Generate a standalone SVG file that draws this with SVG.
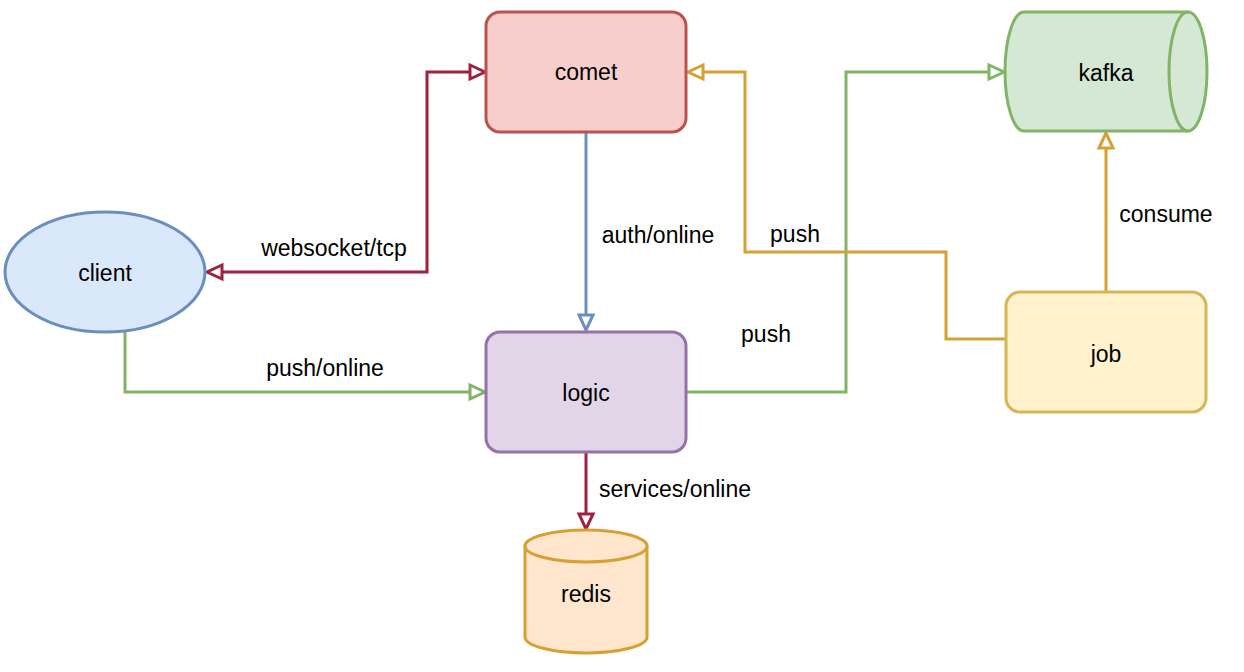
<svg xmlns="http://www.w3.org/2000/svg" width="1244" height="672" viewBox="0 0 1244 672">
<style>
text{font-family:"Liberation Sans",Arial,Helvetica,sans-serif;font-size:23px;fill:#000;text-anchor:middle}
.n{stroke-width:3}
.e{fill:none;stroke-width:3}
</style>
<defs>
<marker id="aR" viewBox="0 0 20 20" refX="17" refY="10" markerWidth="20" markerHeight="20" markerUnits="userSpaceOnUse" orient="auto-start-reverse"><path d="M2,3 L17,10 L2,17 Z" fill="#fff" stroke="#a0213f" stroke-width="3"/></marker>
<marker id="aB" viewBox="0 0 20 20" refX="17" refY="10" markerWidth="20" markerHeight="20" markerUnits="userSpaceOnUse" orient="auto"><path d="M2,3 L17,10 L2,17 Z" fill="#fff" stroke="#6c8ebf" stroke-width="3"/></marker>
<marker id="aG" viewBox="0 0 20 20" refX="17" refY="10" markerWidth="20" markerHeight="20" markerUnits="userSpaceOnUse" orient="auto"><path d="M2,3 L17,10 L2,17 Z" fill="#fff" stroke="#82b366" stroke-width="3"/></marker>
<marker id="aY" viewBox="0 0 20 20" refX="17" refY="10" markerWidth="20" markerHeight="20" markerUnits="userSpaceOnUse" orient="auto"><path d="M2,3 L17,10 L2,17 Z" fill="#fff" stroke="#d6a033" stroke-width="3"/></marker>
</defs>
<g id="connectors">
<path class="e" stroke="#a0213f" d="M207,272 H427 V72 H485" marker-start="url(#aR)" marker-end="url(#aR)"/>
<path class="e" stroke="#6c8ebf" d="M586,132 V330" marker-end="url(#aB)"/>
<path class="e" stroke="#82b366" d="M125,332 V392 H485" marker-end="url(#aG)"/>
<path class="e" stroke="#82b366" d="M686,392 H846 V72 H1004" marker-end="url(#aG)"/>
<path class="e" stroke="#d6a033" d="M1005,339 H946 V252 H745 V72 H688" marker-end="url(#aY)"/>
<path class="e" stroke="#d6a033" d="M1106,292 V133" marker-end="url(#aY)"/>
<path class="e" stroke="#a0213f" d="M586,452 V529" marker-end="url(#aR)"/>
<text x="334" y="256">websocket/tcp</text>
<text x="658" y="243">auth/online</text>
<text x="795" y="242">push</text>
<text x="766" y="342">push</text>
<text x="325" y="376">push/online</text>
<text x="1166" y="222">consume</text>
<text x="675" y="497">services/online</text>
</g>
<g id="comet">
<rect class="n" x="486" y="12" width="200" height="120" rx="14" fill="#f8cecc" stroke="#b85450"/>
<text x="586" y="80">comet</text>
</g>
<g id="kafka">
<path class="n" d="M1024,12 H1188 A19,59.5 0 0 1 1188,131 H1024 A19,59.5 0 0 1 1024,12 Z" fill="#d5e8d4" stroke="#82b366"/>
<path class="n" d="M1188,12 A19,59.5 0 0 0 1188,131" fill="none" stroke="#82b366"/>
<text x="1106" y="81">kafka</text>
</g>
<g id="client">
<ellipse class="n" cx="105" cy="272" rx="100" ry="60" fill="#dae8fc" stroke="#6c8ebf"/>
<text x="105" y="281">client</text>
</g>
<g id="logic">
<rect class="n" x="486" y="332" width="200" height="120" rx="14" fill="#e1d5e7" stroke="#9673a6"/>
<text x="586" y="401">logic</text>
</g>
<g id="job">
<rect class="n" x="1006" y="292" width="200" height="120" rx="14" fill="#fff2cc" stroke="#d6b656"/>
<text x="1106" y="362">job</text>
</g>
<g id="redis">
<path class="n" d="M525,546 A61,16 0 0 1 647,546 V637 A61,16 0 0 1 525,637 Z" fill="#ffe6cc" stroke="#d6a033"/>
<path class="n" d="M525,546 A61,16 0 0 0 647,546" fill="none" stroke="#d6a033"/>
<text x="586" y="602">redis</text>
</g>
</svg>
